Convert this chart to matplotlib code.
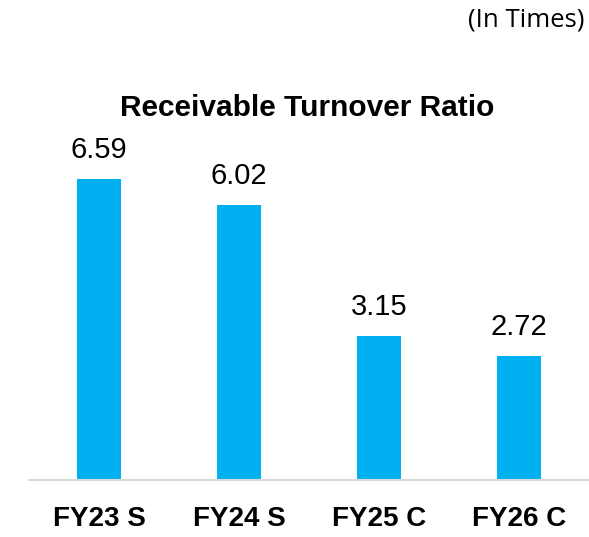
import matplotlib
matplotlib.use("Agg")
import matplotlib.pyplot as plt

categories = ["FY23 S", "FY24 S", "FY25 C", "FY26 C"]
values = [6.59, 6.02, 3.15, 2.72]
value_labels = ["6.59", "6.02", "3.15", "2.72"]
title = "Receivable Turnover Ratio"
unit_note = "(In Times)"

W, H = 589, 537
fig = plt.figure(figsize=(W / 100, H / 100), dpi=100)
ax = fig.add_axes([29 / W, (H - 480) / H, 560 / W, 366 / H])

x = range(len(categories))
bars = ax.bar(x, values, width=0.315, color="#00B0F0", zorder=2)
ax.set_xlim(-0.5, 3.5)
ax.set_ylim(0, 8)

for b, lab in zip(bars, value_labels):
    ax.annotate(lab, (b.get_x() + b.get_width() / 2, b.get_height()),
                xytext=(0, 15), textcoords="offset points",
                ha="center", va="baseline", fontsize=21,
                family="Liberation Sans", color="black")

ax.set_xticks(list(x))
ax.set_xticklabels(categories, fontsize=20, fontweight="bold", family="Liberation Sans")
ax.tick_params(axis="x", length=0, pad=19)
ax.set_yticks([])
for s in ["top", "left", "right"]:
    ax.spines[s].set_visible(False)
ax.spines["bottom"].set_color("#D9D9D9")
ax.spines["bottom"].set_linewidth(1.5)

fig.text(307 / W, (H - 108) / H, title, ha="center", va="center",
         fontsize=21.5, fontweight="bold", family="Liberation Sans")
fig.text(585 / W, (H - 20) / H, unit_note, ha="right", va="center",
         fontsize=18.5, family="Open Sans")

fig.savefig("out.png", dpi=100)
